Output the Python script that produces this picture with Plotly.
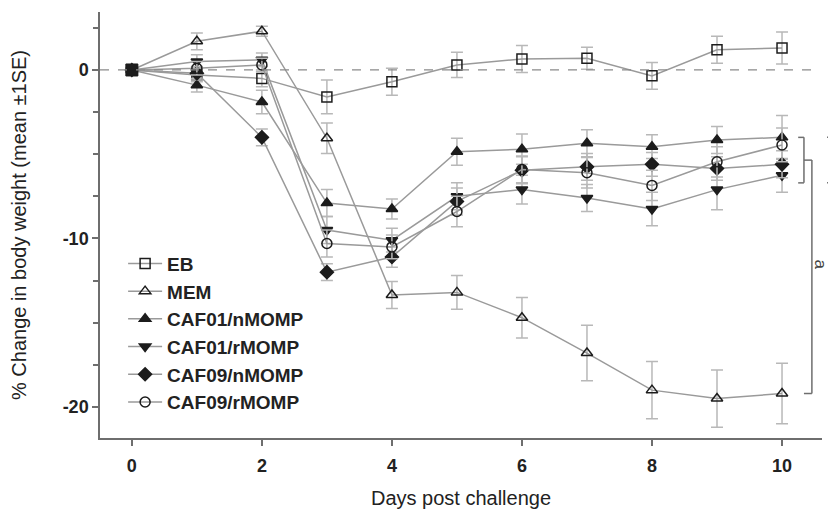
import plotly.graph_objects as go

# ---------------- data ----------------
days = [0, 1, 2, 3, 4, 5, 6, 7, 8, 9, 10]

eb        = [0, -0.3, -0.5, -1.6, -0.7, 0.3, 0.65, 0.7, -0.35, 1.2, 1.3]
eb_se     = [0, 0.4, 0.5, 1.0, 0.8, 0.75, 0.8, 0.65, 0.8, 0.8, 0.95]
mem       = [0, 1.7, 2.3, -4.05, -13.35, -13.2, -14.7, -16.8, -19.0, -19.5, -19.2]
mem_se    = [0, 0.5, 0.3, 0.9, 0.8, 1.0, 1.2, 1.65, 1.7, 1.7, 1.8]
caf01n    = [0, -0.9, -1.9, -7.9, -8.25, -4.85, -4.7, -4.35, -4.55, -4.15, -4.0]
caf01n_se = [0, 0.4, 0.7, 0.8, 0.6, 0.8, 0.9, 0.8, 0.7, 0.8, 1.3]
caf01r    = [0, 0.5, 0.6, -9.5, -10.1, -7.5, -7.1, -7.6, -8.25, -7.1, -6.25]
caf01r_se = [0, 0.4, 0.4, 0.8, 0.7, 0.8, 0.85, 0.8, 1.0, 1.2, 1.0]
caf09n    = [0, -0.2, -4.0, -12.0, -11.1, -7.8, -5.95, -5.75, -5.6, -5.85, -5.6]
caf09n_se = [0, 0.4, 0.5, 0.5, 0.6, 0.8, 0.8, 0.8, 0.7, 0.7, 0.8]
caf09r    = [0, 0.1, 0.3, -10.3, -10.5, -8.4, -5.9, -6.1, -6.85, -5.45, -4.45]
caf09r_se = [0, 0.4, 0.4, 0.8, 0.7, 0.9, 0.8, 0.9, 0.9, 0.9, 1.0]

x_ticks = [0, 2, 4, 6, 8, 10]
y_tickvals = [0, -10, -20]
y_ticktext = ["0", "-10", "-20"]

# significance brackets (y spans in data units)
bracket_inner = [-4.0, -6.7]     # CAF groups at day 10
bracket_outer = [-5.35, -19.2]   # CAF groups vs MEM
bracket_label = "a"

# ---------------- styling ----------------
X_RANGE = [-0.49, 10.615]
Y_RANGE = [-21.84, 3.44]
LINE_COL = "#9a9a9a"
MK_COL = "#1c1c1c"
ERR_COL = "#b8b8b8"
FONT = "Liberation Sans, Arial, sans-serif"

fig = go.Figure()

series = [
    ("EB", eb, eb_se, "square-open"),
    ("MEM", mem, mem_se, "triangle-up-open"),
    ("CAF01/nMOMP", caf01n, caf01n_se, "triangle-up"),
    ("CAF01/rMOMP", caf01r, caf01r_se, "triangle-down"),
    ("CAF09/nMOMP", caf09n, caf09n_se, "diamond"),
    ("CAF09/rMOMP", caf09r, caf09r_se, "circle-open"),
]

for rank, (name, vals, se, sym) in enumerate(series):
    fig.add_trace(go.Scatter(
        x=days, y=vals, name=name, mode="lines+markers",
        legendrank=rank + 1,
        line=dict(color=LINE_COL, width=1.5),
        marker=dict(symbol=sym, size=10, color=MK_COL,
                    line=dict(color=MK_COL, width=1.5)),
        error_y=dict(type="data", array=se, visible=True,
                     color=ERR_COL, thickness=1.5, width=6),
    ))

# filled start marker (day 0), drawn on top
fig.add_trace(go.Scatter(
    x=days[:1], y=eb[:1], mode="markers", showlegend=False,
    marker=dict(symbol="square", size=12, color=MK_COL,
                line=dict(color=MK_COL, width=1)),
))


def py(v):
    return (v - Y_RANGE[0]) / (Y_RANGE[1] - Y_RANGE[0])


shapes = []
# dashed zero line
shapes.append(dict(type="line", xref="x", yref="y",
                   x0=X_RANGE[0], x1=10.46, y0=0, y1=0,
                   line=dict(color="#8a8a8a", width=1.2, dash="dash")))

BR = dict(color="#6e6e6e", width=1.5)
# inner bracket
xa, xb = 0.967, 0.975
t, b = py(bracket_inner[0]), py(bracket_inner[1])
shapes += [
    dict(type="line", xref="paper", yref="paper", x0=xa, x1=xb, y0=t, y1=t, line=BR),
    dict(type="line", xref="paper", yref="paper", x0=xb, x1=xb, y0=t, y1=b, line=BR),
    dict(type="line", xref="paper", yref="paper", x0=xa, x1=xb, y0=b, y1=b, line=BR),
]
# outer bracket
xc = 0.986
t2, b2 = py(bracket_outer[0]), py(bracket_outer[1])
shapes += [
    dict(type="line", xref="paper", yref="paper", x0=xb, x1=xc, y0=t2, y1=t2, line=BR),
    dict(type="line", xref="paper", yref="paper", x0=xc, x1=xc, y0=t2, y1=b2, line=BR),
    dict(type="line", xref="paper", yref="paper", x0=xb, x1=xc, y0=b2, y1=b2, line=BR),
]
# far-right bracket
xd, xe = 1.007, 1.013
shapes += [
    dict(type="line", xref="paper", yref="paper", x0=xd, x1=xe, y0=t, y1=t, line=BR),
    dict(type="line", xref="paper", yref="paper", x0=xe, x1=xe, y0=t, y1=b, line=BR),
    dict(type="line", xref="paper", yref="paper", x0=xd, x1=xe, y0=b, y1=b, line=BR),
]

# the page body adds an 8px offset, so the figure is sized to fit 836x515
fig.update_layout(
    width=828, height=507,
    margin=dict(l=92, r=14, t=4, b=77, autoexpand=False),
    paper_bgcolor="white", plot_bgcolor="white",
    font=dict(family=FONT, color="#222222", size=18),
    showlegend=True,
    legend=dict(x=0.032, y=0.454, xanchor="left", yanchor="top",
                bgcolor="rgba(0,0,0,0)", tracegroupgap=0,
                font=dict(family=FONT, size=19, color="#222222", weight="bold"),
                itemwidth=34),
    shapes=shapes,
    annotations=[dict(xref="paper", yref="paper", x=0.998, xanchor="center",
                      y=(py(bracket_outer[0]) + py(bracket_outer[1])) / 2 + 0.03,
                      text=bracket_label, showarrow=False, textangle=90,
                      font=dict(family=FONT, size=17, color="#444444"))],
)

fig.update_xaxes(
    range=X_RANGE, tickvals=x_ticks, ticks="outside", ticklen=6, tickwidth=1.5,
    tickcolor="#6e6e6e", showline=True, linecolor="#6e6e6e", linewidth=1.5,
    showgrid=False, zeroline=False, ticklabelstandoff=5, automargin=False,
    tickfont=dict(family=FONT, size=18, color="#222222", weight="bold"),
    title=dict(text="Days post challenge", standoff=16,
               font=dict(family=FONT, size=20, color="#222222")),
)
fig.update_yaxes(
    range=Y_RANGE, tickvals=y_tickvals, ticktext=y_ticktext,
    ticks="outside", ticklen=6, tickwidth=1.5, tickcolor="#6e6e6e",
    minor=dict(dtick=2.5, tick0=0, ticks="outside", ticklen=5, tickwidth=1.5,
               tickcolor="#6e6e6e", showgrid=False),
    showline=True, linecolor="#6e6e6e", linewidth=1.5,
    showgrid=False, zeroline=False, automargin=False,
    tickfont=dict(family=FONT, size=18, color="#222222", weight="bold"),
    title=dict(text="% Change in body weight (mean ±1SE)", standoff=36,
               font=dict(family=FONT, size=20, color="#222222")),
)

fig.write_html("out.html")
